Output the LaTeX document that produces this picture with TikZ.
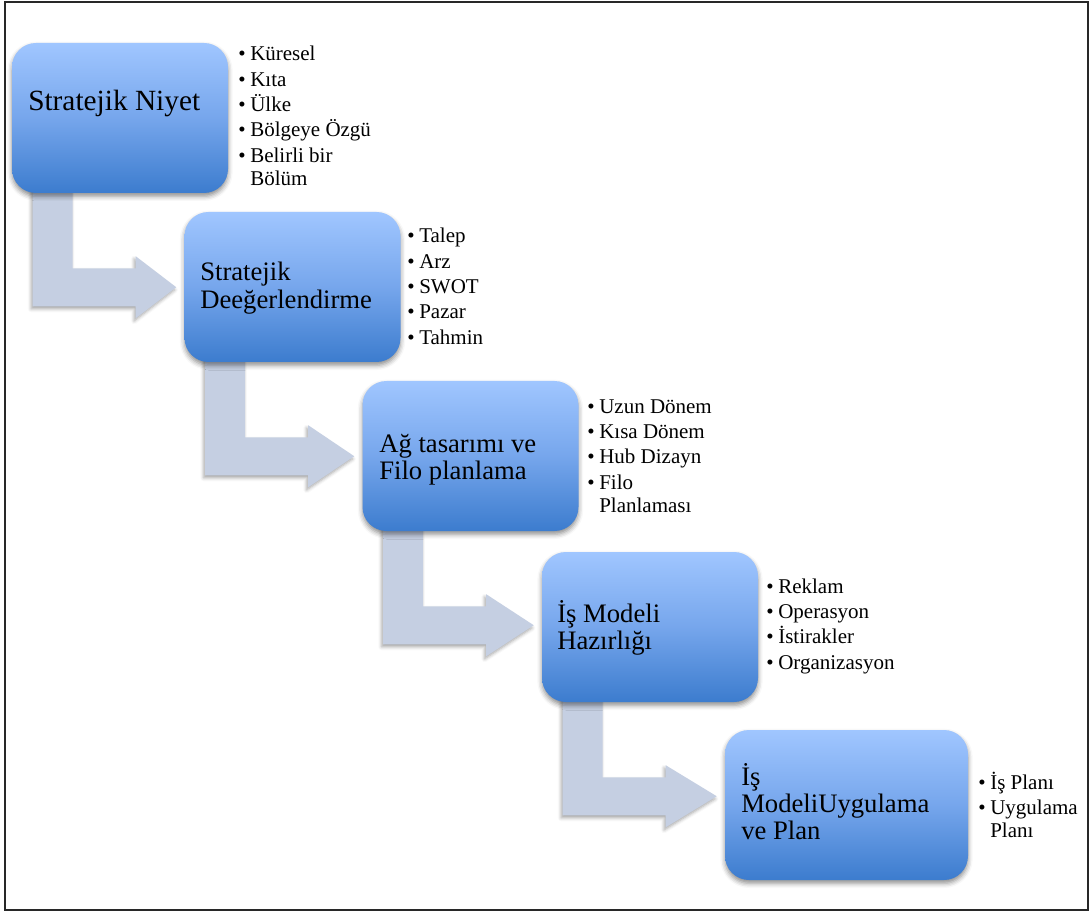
\documentclass[tikz,border=0pt]{standalone}
\usepackage{fontspec}
\setmainfont{Liberation Serif}
\usetikzlibrary{calc,shadows.blur}

\definecolor{boxtop}{RGB}{160,198,255}
\definecolor{boxmid}{RGB}{118,166,236}
\definecolor{boxbot}{RGB}{60,124,206}
\definecolor{arrowfill}{RGB}{197,207,226}
\definecolor{framecol}{RGB}{40,40,40}

\pgfdeclarelayer{bg}
\pgfsetlayers{bg,main}

\newcommand{\blt}{\makebox[9pt][l]{\textbullet}}
\newcommand{\cont}{\hspace*{9pt}}

\tikzset{
  stepbox/.style={rectangle, rounded corners=18pt, minimum width=162pt,
    minimum height=112.5pt, inner sep=0pt, draw=none,
    top color=boxtop, bottom color=boxbot, middle color=boxmid,
    blur shadow={shadow xshift=0pt, shadow yshift=-2.5pt,
      shadow blur radius=3.5pt, shadow opacity=45}},
  title/.style={anchor=base west, inner sep=0pt,
    font=\fontsize{20pt}{20.6pt}\selectfont},
  bullets/.style={anchor=base west, inner sep=0pt,
    font=\fontsize{15.75pt}{17.25pt}\selectfont},
  bentarrow/.style={fill=arrowfill, draw=none,
    blur shadow={shadow xshift=-1.2pt, shadow yshift=-2pt,
      shadow blur radius=2.5pt, shadow opacity=35}},
}

% bent arrow from the bottom of one step box to the left side of the next
\newcommand{\stepflow}[2]{%
  \path[bentarrow] let \p1=(#1.south west), \p2=(#2.west) in
    (\x1+15.75pt,\y1+4pt) -- (\x1+45.75pt,\y1+4pt)
    -- (\x1+45.75pt,\y1-56.25pt) -- (\x1+93pt,\y1-56.25pt)
    -- (\x1+93pt,\y1-47.25pt) -- (\x2-6pt,\y1-70.5pt)
    -- (\x1+93pt,\y1-93.75pt) -- (\x1+93pt,\y1-84.75pt)
    -- (\x1+15.75pt,\y1-84.75pt) -- cycle;}

\begin{document}
\begin{tikzpicture}[x=0.75pt,y=-0.75pt]
  \useasboundingbox (0,0) rectangle (1091,912);
  \draw[framecol, line width=1.5pt] (5,2) rectangle (1088,910);

  % step boxes
  \node[stepbox] (b1) at (120,118) {};
  \node[stepbox] (b2) at (292.5,287) {};
  \node[stepbox] (b3) at (470.5,456) {};
  \node[stepbox] (b4) at (650,627) {};
  \node[stepbox, minimum width=182.25pt] (b5) at (846.5,805) {};

  % connectors behind the boxes
  \begin{pgfonlayer}{bg}
    \stepflow{b1}{b2}
    \stepflow{b2}{b3}
    \stepflow{b3}{b4}
    \stepflow{b4}{b5}
  \end{pgfonlayer}

  % box titles
  \node[title, font=\fontsize{22pt}{23pt}\selectfont] (t1) at (28,111)
    {Stratejik Niyet};
  \node[title] (t2) at (200,281)
    {\parbox[t]{200pt}{Stratejik\\Deeğerlendirme}};
  \node[title] (t3) at (379,452)
    {\parbox[t]{200pt}{Ağ tasarımı ve\\Filo planlama}};
  \node[title] (t4) at (557,622)
    {\parbox[t]{200pt}{İş Modeli\\Hazırlığı}};
  \node[title] (t5) at (741,785)
    {\parbox[t]{200pt}{İş\\ModeliUygulama\\ve Plan}};

  % bullet lists
  \node[bullets] (l1) at (238,61) {\parbox[t]{200pt}{%
    \blt Küresel\\[1.75pt]
    \blt Kıta\\[1.75pt]
    \blt Ülke\\[1.75pt]
    \blt Bölgeye Özgü\\[1.75pt]
    \blt Belirli bir\\
    \cont Bölüm}};
  \node[bullets] (l2) at (407,243) {\parbox[t]{200pt}{%
    \blt Talep\\[1.75pt]
    \blt Arz\\[1.75pt]
    \blt SWOT\\[1.75pt]
    \blt Pazar\\[1.75pt]
    \blt Tahmin}};
  \node[bullets] (l3) at (587,413) {\parbox[t]{200pt}{%
    \blt Uzun Dönem\\[1.75pt]
    \blt Kısa Dönem\\[1.75pt]
    \blt Hub Dizayn\\[1.75pt]
    \blt Filo\\
    \cont Planlaması}};
  \node[bullets] (l4) at (766,593) {\parbox[t]{200pt}{%
    \blt Reklam\\[1.75pt]
    \blt Operasyon\\[1.75pt]
    \blt İstirakler\\[1.75pt]
    \blt Organizasyon}};
  \node[bullets] (l5) at (978,789) {\parbox[t]{200pt}{%
    \blt İş Planı\\[1.75pt]
    \blt Uygulama\\
    \cont Planı}};
\end{tikzpicture}
\end{document}
